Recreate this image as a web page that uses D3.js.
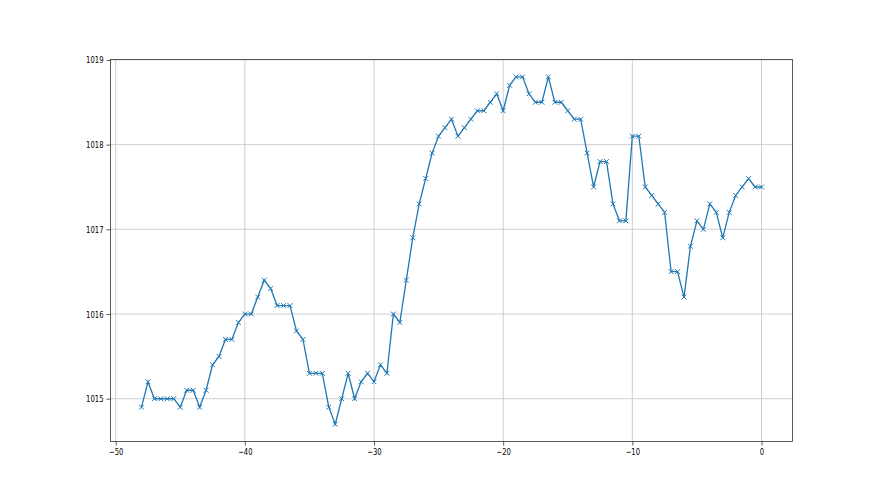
<!DOCTYPE html>
<html lang="en">

<head>
    <meta charset="UTF-8" />
    <style>
        body { margin: 0; background: #fff; }
        text { font-family: "DejaVu Sans", sans-serif; }
    </style>
</head>

<body>
    <svg width="880" height="495"></svg>
    <script src="https://d3js.org/d3.v7.min.js"></script>
    <script>
        // hours before now
        var hours = [
            -48, -47.5, -47, -46.5, -46, -45.5, -45, -44.5, -44, -43.5, -43, -42.5, -42, -41.5, -41, -40.5,
            -40, -39.5, -39, -38.5, -38, -37.5, -37, -36.5, -36, -35.5, -35, -34.5, -34, -33.5, -33, -32.5,
            -32, -31.5, -31, -30.5, -30, -29.5, -29, -28.5, -28, -27.5, -27, -26.5, -26, -25.5, -25, -24.5,
            -24, -23.5, -23, -22.5, -22, -21.5, -21, -20.5, -20, -19.5, -19, -18.5, -18, -17.5, -17, -16.5,
            -16, -15.5, -15, -14.5, -14, -13.5, -13, -12.5, -12, -11.5, -11, -10.5, -10, -9.5, -9, -8.5,
            -8, -7.5, -7, -6.5, -6, -5.5, -5, -4.5, -4, -3.5, -3, -2.5, -2, -1.5, -1, -0.5, 0
        ];

        // pressure readings
        var pressure = [
            1014.9, 1015.2, 1015.0, 1015.0, 1015.0, 1015.0, 1014.9, 1015.1, 1015.1, 1014.9, 1015.1, 1015.4, 1015.5,
            1015.7, 1015.7, 1015.9, 1016.0, 1016.0, 1016.2, 1016.4, 1016.3, 1016.1, 1016.1, 1016.1, 1015.8, 1015.7,
            1015.3, 1015.3, 1015.3, 1014.9, 1014.7, 1015.0, 1015.3, 1015.0, 1015.2, 1015.3, 1015.2, 1015.4, 1015.3,
            1016.0, 1015.9, 1016.4,
            1016.9, 1017.3, 1017.6, 1017.9, 1018.1, 1018.2, 1018.3, 1018.1, 1018.2, 1018.3, 1018.4, 1018.4, 1018.5,
            1018.6, 1018.4, 1018.7, 1018.8, 1018.8, 1018.6, 1018.5, 1018.5,
            1018.8, 1018.5, 1018.5, 1018.4, 1018.3, 1018.3, 1017.9, 1017.5, 1017.8, 1017.8, 1017.3, 1017.1, 1017.1,
            1018.1, 1018.1, 1017.5, 1017.4, 1017.3, 1017.2,
            1016.5, 1016.5, 1016.2, 1016.8, 1017.1, 1017.0, 1017.3, 1017.2, 1016.9, 1017.2, 1017.4, 1017.5, 1017.6,
            1017.5, 1017.5
        ];

        var xTicks = [-50, -40, -30, -20, -10, 0];
        var yTicks = [1015, 1016, 1017, 1018, 1019];

        var svg = d3.select("svg"),
            margin = { left: 110.5, right: 87.5, top: 59.5, bottom: 53.5 },
            width = +svg.attr("width") - margin.left - margin.right,
            height = +svg.attr("height") - margin.top - margin.bottom;

        // matplotlib-like 5% padding
        var xMin = d3.min(hours), xMax = d3.max(hours);
        var yMin = d3.min(pressure), yMax = d3.max(pressure);
        var xPad = (xMax - xMin) * 0.05, yPad = (yMax - yMin) * 0.05;

        var x = d3.scaleLinear().domain([xMin - xPad, xMax + xPad]).range([0, width]);
        var y = d3.scaleLinear().domain([yMin - yPad, yMax + yPad]).range([height, 0]);

        var g = svg.append("g").attr("transform", "translate(" + margin.left + "," + margin.top + ")");

        // grid
        g.append("g").selectAll("line").data(xTicks).enter().append("line")
            .attr("x1", d => x(d)).attr("x2", d => x(d))
            .attr("y1", 0).attr("y2", height)
            .style("stroke", "#c4c4c4").style("stroke-width", 0.8);
        g.append("g").selectAll("line").data(yTicks).enter().append("line")
            .attr("x1", 0).attr("x2", width)
            .attr("y1", d => y(d)).attr("y2", d => y(d))
            .style("stroke", "#c4c4c4").style("stroke-width", 0.8);

        var line = d3.line().x((d, i) => x(hours[i])).y(d => y(d));

        g.append("path")
            .datum(pressure)
            .attr("d", line)
            .style("fill", "none")
            .style("stroke", "#1f77b4")
            .style("stroke-width", 1.3);

        var m = 2.4;
        g.append("g").selectAll("path").data(pressure).enter().append("path")
            .attr("transform", (d, i) => "translate(" + x(hours[i]) + "," + y(d) + ")")
            .attr("d", "M" + -m + "," + -m + "L" + m + "," + m + "M" + -m + "," + m + "L" + m + "," + -m)
            .style("stroke", "#1f77b4")
            .style("stroke-width", 1);

        // axes
        var sx = 0.72; // tick labels in the picture are narrow
        var xAxis = g.append("g").attr("transform", "translate(0," + height + ")")
            .call(d3.axisBottom(x).tickValues(xTicks).tickSize(4).tickPadding(3).tickFormat(d => d < 0 ? "\u2212" + Math.abs(d) : d));
        var yAxis = g.append("g")
            .call(d3.axisLeft(y).tickValues(yTicks).tickSize(4).tickPadding(3).tickFormat(d3.format("d")));
        yAxis.selectAll("text").attr("x", -7 / sx);

        [xAxis, yAxis].forEach(function (a) {
            a.select(".domain").remove();
            a.selectAll("text")
                .attr("transform", "scale(" + sx + ",1)")
                .style("font-size", "9.5px").style("fill", "#000").style("font-family", "DejaVu Sans");
            a.selectAll("line").style("stroke", "#333").style("stroke-width", 0.8);
        });

        // frame
        g.append("rect")
            .attr("width", width).attr("height", height)
            .style("fill", "none").style("stroke", "#333").style("stroke-width", 0.8);
    </script>
</body>

</html>
